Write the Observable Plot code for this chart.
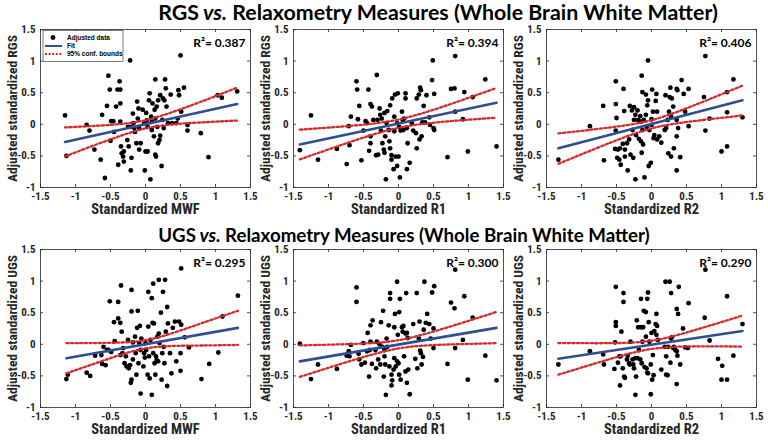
<!DOCTYPE html>
<html><head><meta charset="utf-8">
<script src="https://cdn.jsdelivr.net/npm/d3@7"></script>
<script src="https://cdn.jsdelivr.net/npm/@observablehq/plot@0.6"></script>
<style>
html,body{margin:0;padding:0;background:#fff;}
#root{position:relative;width:768px;height:442px;overflow:hidden;background:#fff;}
.panel{position:absolute;}
#overlay{position:absolute;left:0;top:0;pointer-events:none;}
</style></head><body><div id="root"></div>
<script>
// ---------------- data ----------------
const xTicks = [-1.5, -1, -0.5, 0, 0.5, 1, 1.5];
const yTicks = [-1, -0.5, 0, 0.5, 1, 1.5];
const titleTexts = [["RGS", " vs.", " Relaxometry Measures (Whole Brain White Matter)"],
                    ["UGS", " vs.", " Relaxometry Measures (Whole Brain White Matter)"]];
const xLabels = ["Standardized MWF", "Standardized R1", "Standardized R2"];
const yLabels = ["Adjusted standardized RGS", "Adjusted standardized UGS"];
const r2Values = ["0.387", "0.394", "0.406", "0.295", "0.300", "0.290"];
const legendLabels = ["Adjusted data", "Fit", "95% conf. bounds"];

const rgsMwfPoints = [[-1.15,0.14],[-1.13,-0.50],[-0.84,-0.01],[-0.80,-0.10],[-0.73,-0.40],[-0.64,-0.56],[-0.62,0.15],[-0.58,-0.85],[-0.55,0.29],[-0.53,0.77],[-0.51,0.55],[-0.50,-0.26],[-0.49,0.05],[-0.46,0.05],[-0.45,-0.12],[-0.42,0.28],[-0.40,0.55],[-0.39,-0.64],[-0.37,0.68],[-0.36,0.55],[-0.36,0.04],[-0.36,0.33],[-0.35,-0.35],[-0.34,-0.46],[-0.32,-0.51],[-0.31,-0.59],[-0.31,-0.43],[-0.26,-0.25],[-0.25,-0.04],[-0.24,-0.35],[-0.22,1.01],[-0.21,-0.04],[-0.21,-0.73],[-0.20,-0.53],[-0.18,0.17],[-0.17,0.02],[-0.16,-0.06],[-0.15,-0.12],[-0.13,-0.30],[-0.12,0.36],[-0.11,0.09],[-0.10,0.25],[-0.09,-0.06],[-0.09,-0.40],[-0.07,-0.30],[-0.04,0.23],[-0.02,0.02],[-0.01,-0.73],[0.00,-0.43],[0.01,0.18],[0.02,0.06],[0.03,-0.04],[0.03,-0.43],[0.05,0.38],[0.06,0.49],[0.07,-0.87],[0.08,0.12],[0.09,0.04],[0.09,-0.09],[0.10,0.33],[0.12,-0.19],[0.13,0.23],[0.14,0.09],[0.14,0.71],[0.14,-0.48],[0.15,-0.51],[0.16,0.28],[0.17,-0.04],[0.18,0.38],[0.18,-0.30],[0.20,-0.25],[0.21,0.46],[0.21,-0.18],[0.23,-0.66],[0.24,0.07],[0.25,0.41],[0.26,-0.06],[0.27,0.38],[0.28,0.71],[0.29,0.57],[0.30,0.28],[0.32,0.02],[0.36,0.47],[0.38,0.02],[0.44,0.02],[0.46,0.09],[0.47,0.54],[0.48,0.46],[0.50,1.09],[0.51,0.20],[0.55,0.58],[0.60,-0.01],[0.60,-0.10],[0.79,-0.14],[0.90,-0.52],[1.03,0.46],[1.09,0.42],[1.31,0.52]];
const rgsMwfFit = [[-1.15,-0.28],[1.31,0.32]];
const rgsMwfUpper = [[-1.15,-0.05],[-0.8,-0.03],[-0.4,0.0],[0,0.065],[0.4,0.2],[0.8,0.36],[1.31,0.58]];
const rgsMwfLower = [[-1.15,-0.51],[-0.8,-0.36],[-0.4,-0.2],[0,-0.065],[0.4,0.0],[0.8,0.03],[1.31,0.06]];

const rgsR1Points = [[-1.41,-0.41],[-1.25,0.14],[-1.15,-0.56],[-0.88,-0.39],[-0.74,-0.63],[-0.71,-0.03],[-0.70,-0.33],[-0.68,0.12],[-0.60,0.68],[-0.59,0.55],[-0.58,0.08],[-0.56,0.29],[-0.53,-0.57],[-0.50,-0.10],[-0.47,0.05],[-0.45,0.02],[-0.43,0.55],[-0.42,-0.42],[-0.40,-0.19],[-0.40,-0.30],[-0.40,0.32],[-0.38,0.28],[-0.36,0.07],[-0.32,-0.49],[-0.31,0.78],[-0.30,0.07],[-0.29,-0.48],[-0.27,0.25],[-0.26,0.15],[-0.25,-0.10],[-0.24,0.09],[-0.23,-0.30],[-0.21,-0.40],[-0.20,-0.45],[-0.20,0.18],[-0.19,-0.19],[-0.18,-0.87],[-0.17,0.02],[-0.16,0.21],[-0.14,-0.09],[-0.13,-0.27],[-0.12,0.30],[-0.12,-0.38],[-0.10,-0.49],[-0.10,-0.56],[-0.09,0.41],[-0.07,-0.71],[-0.06,0.12],[-0.06,-0.11],[-0.05,0.47],[-0.04,-0.51],[-0.02,0.02],[-0.02,-0.66],[-0.01,0.49],[0.00,-0.51],[0.01,-0.04],[0.02,-0.84],[0.03,-0.10],[0.05,0.20],[0.06,0.07],[0.07,-0.09],[0.08,0.09],[0.10,0.49],[0.10,0.41],[0.12,-0.71],[0.12,-0.06],[0.13,-0.30],[0.16,-0.61],[0.19,0.02],[0.21,-0.10],[0.25,-0.14],[0.26,-0.38],[0.26,0.41],[0.29,0.47],[0.30,-0.24],[0.31,0.58],[0.32,0.54],[0.33,-0.19],[0.34,0.03],[0.36,0.29],[0.38,0.03],[0.40,0.46],[0.44,0.11],[0.45,-0.01],[0.48,0.70],[0.49,1.01],[0.50,-0.06],[0.51,0.48],[0.51,-0.09],[0.75,0.56],[0.80,0.57],[0.81,0.20],[0.81,1.08],[0.70,-0.52],[0.92,0.08],[0.94,0.51],[0.99,-0.43],[1.06,0.43],[1.24,0.71],[1.40,-0.35]];
const rgsR1Fit = [[-1.41,-0.32],[1.40,0.34]];
const rgsR1Upper = [[-1.41,-0.085],[-0.8,-0.035],[-0.4,0.007],[0,0.075],[0.4,0.195],[0.8,0.341],[1.40,0.575]];
const rgsR1Lower = [[-1.41,-0.555],[-0.8,-0.321],[-0.4,-0.175],[0,-0.055],[0.4,0.013],[0.8,0.055],[1.40,0.105]];

const rgsR2Points = [[-1.33,-0.56],[-0.88,-0.03],[-0.69,0.29],[-0.68,-0.57],[-0.51,0.68],[-0.51,0.32],[-0.51,-0.10],[-0.50,0.10],[-0.52,-0.39],[-0.49,-0.53],[-0.48,-0.40],[-0.46,-0.56],[-0.45,-0.38],[-0.44,-0.64],[-0.41,-0.31],[-0.40,0.56],[-0.39,0.21],[-0.38,-0.40],[-0.38,-0.51],[-0.35,-0.30],[-0.34,-0.73],[-0.32,-0.24],[-0.31,0.29],[-0.30,-0.48],[-0.28,0.22],[-0.27,-0.09],[-0.26,-0.53],[-0.25,0.07],[-0.25,0.27],[-0.23,0.15],[-0.23,-0.87],[-0.22,-0.17],[-0.20,0.22],[-0.19,0.07],[-0.18,-0.23],[-0.16,0.13],[-0.15,0.04],[-0.15,-0.27],[-0.14,-0.45],[-0.14,0.77],[-0.13,-0.09],[-0.13,0.51],[-0.12,-0.32],[-0.11,0.07],[-0.10,-0.84],[-0.08,0.47],[-0.08,0.15],[-0.07,-0.04],[-0.06,0.30],[-0.05,1.01],[-0.05,0.38],[-0.04,-0.66],[-0.03,-0.09],[-0.01,-0.61],[0.00,-0.01],[0.00,0.08],[0.01,0.55],[0.02,0.20],[0.03,-0.22],[0.04,-0.17],[0.06,0.37],[0.07,0.48],[0.08,0.20],[0.08,-0.24],[0.11,-0.19],[0.14,-0.29],[0.19,-0.09],[0.20,0.46],[0.21,-0.06],[0.23,0.07],[0.24,-0.46],[0.25,0.20],[0.26,0.43],[0.27,0.58],[0.28,-0.51],[0.28,0.12],[0.29,0.41],[0.31,0.28],[0.32,-0.38],[0.36,-0.19],[0.36,0.07],[0.36,0.56],[0.37,0.54],[0.36,-0.73],[0.38,-0.06],[0.41,-0.52],[0.43,0.70],[0.46,0.48],[0.48,0.20],[0.53,-0.03],[0.53,0.56],[0.77,-0.10],[0.75,0.43],[0.77,1.08],[0.83,0.09],[1.00,-0.43],[1.08,-0.35],[1.08,0.51],[1.08,0.19],[1.17,0.71],[1.30,0.11]];
const rgsR2Fit = [[-1.33,-0.38],[1.30,0.38]];
const rgsR2Upper = [[-1.33,-0.144],[-0.8,-0.077],[-0.4,-0.021],[0,0.065],[0.4,0.211],[0.8,0.385],[1.30,0.611]];
const rgsR2Lower = [[-1.33,-0.624],[-0.8,-0.385],[-0.4,-0.211],[0,-0.065],[0.4,0.021],[0.8,0.077],[1.30,0.141]];

const ugsMwfPoints = [[-1.13,-0.55],[-1.11,-0.48],[-0.84,-0.45],[-0.79,-0.50],[-0.72,-0.18],[-0.60,-0.04],[-0.63,-0.17],[-0.62,-0.31],[-0.57,-0.33],[-0.55,-0.09],[-0.53,-0.09],[-0.51,0.68],[-0.49,-0.12],[-0.45,0.35],[-0.44,0.05],[-0.39,0.67],[-0.39,0.41],[-0.36,0.34],[-0.36,-0.17],[-0.35,0.93],[-0.34,0.20],[-0.33,-0.14],[-0.32,-0.06],[-0.30,-0.30],[-0.28,-0.19],[-0.27,-0.35],[-0.25,0.07],[-0.24,-0.38],[-0.22,-0.33],[-0.21,-0.61],[-0.20,0.86],[-0.20,-0.56],[-0.20,0.52],[-0.18,-0.24],[-0.18,0.03],[-0.15,0.12],[-0.14,-0.14],[-0.13,-0.48],[-0.12,0.26],[-0.11,0.53],[-0.10,-0.30],[-0.09,0.02],[-0.08,0.29],[-0.07,-0.78],[-0.07,-0.09],[-0.06,0.09],[-0.03,-0.35],[-0.02,-0.14],[-0.01,-0.21],[0.00,0.02],[0.01,-0.09],[0.03,-0.48],[0.04,0.83],[0.04,0.28],[0.05,-0.19],[0.06,-0.54],[0.07,0.07],[0.09,-0.80],[0.09,0.73],[0.10,0.34],[0.11,0.96],[0.11,-0.14],[0.12,0.33],[0.13,-0.30],[0.14,-0.48],[0.15,-0.19],[0.16,-0.25],[0.17,0.12],[0.18,-0.27],[0.19,1.02],[0.19,0.17],[0.20,0.02],[0.22,0.50],[0.23,-0.56],[0.24,-0.14],[0.25,0.83],[0.26,-0.04],[0.27,-0.30],[0.28,1.02],[0.29,0.20],[0.31,0.59],[0.31,-0.66],[0.32,0.33],[0.35,-0.14],[0.37,-0.46],[0.39,0.26],[0.42,0.36],[0.44,-0.27],[0.48,0.36],[0.50,-0.14],[0.50,-0.42],[0.51,0.31],[0.51,1.20],[0.56,0.11],[0.62,-0.05],[0.80,-0.55],[0.91,-0.31],[1.04,-0.13],[1.10,0.44],[1.32,0.77]];
const ugsMwfFit = [[-1.13,-0.22],[1.32,0.26]];
const ugsMwfUpper = [[-1.13,0.018],[-0.8,0.019],[-0.4,0.026],[0,0.065],[0.4,0.182],[0.8,0.333],[1.32,0.53]];
const ugsMwfLower = [[-1.13,-0.46],[-0.8,-0.333],[-0.4,-0.182],[0,-0.065],[0.4,-0.026],[0.8,-0.019],[1.32,-0.01]];

const ugsR1Points = [[-1.41,0.01],[-1.25,-0.55],[-1.15,-0.32],[-0.88,-0.39],[-0.74,-0.18],[-0.71,-0.11],[-0.70,-0.19],[-0.68,-0.01],[-0.60,0.90],[-0.60,0.67],[-0.57,-0.15],[-0.56,-0.24],[-0.53,-0.32],[-0.50,0.02],[-0.48,-0.29],[-0.45,-0.11],[-0.44,0.18],[-0.42,-0.51],[-0.41,-0.09],[-0.40,0.04],[-0.40,0.30],[-0.38,-0.31],[-0.37,0.38],[-0.33,-0.09],[-0.32,-0.38],[-0.31,0.04],[-0.29,-0.24],[-0.27,0.00],[-0.26,-0.32],[-0.25,0.35],[-0.23,-0.04],[-0.22,0.53],[-0.21,-0.51],[-0.20,-0.09],[-0.20,-0.19],[-0.19,-0.32],[-0.18,-0.80],[-0.17,0.09],[-0.16,-0.04],[-0.14,0.30],[-0.13,-0.35],[-0.12,0.81],[-0.12,0.72],[-0.10,-0.48],[-0.10,-0.65],[-0.09,-0.57],[-0.07,-0.40],[-0.06,0.27],[-0.06,-0.22],[-0.05,0.48],[-0.04,-0.35],[-0.02,0.99],[-0.02,-0.27],[-0.01,0.15],[0.00,-0.30],[0.01,0.51],[0.01,-0.48],[0.02,0.72],[0.03,-0.56],[0.05,0.27],[0.06,0.20],[0.07,0.29],[0.08,-0.19],[0.10,-0.43],[0.10,0.17],[0.11,0.81],[0.12,0.18],[0.12,-0.61],[0.13,0.10],[0.14,-0.40],[0.16,-0.79],[0.21,0.32],[0.24,-0.23],[0.26,0.81],[0.27,-0.38],[0.29,0.09],[0.30,0.36],[0.31,-0.10],[0.32,-0.14],[0.33,-0.32],[0.35,-0.20],[0.36,0.23],[0.37,0.99],[0.39,0.34],[0.41,0.48],[0.44,0.32],[0.46,0.09],[0.48,0.82],[0.50,0.25],[0.50,-0.06],[0.51,0.92],[0.70,-0.31],[0.75,0.66],[0.80,0.57],[0.81,-0.06],[0.81,1.18],[0.92,0.07],[0.94,0.76],[0.99,-0.56],[1.06,0.42],[1.24,-0.18],[1.40,-0.57]];
const ugsR1Fit = [[-1.41,-0.27],[1.40,0.26]];
const ugsR1Upper = [[-1.41,-0.018],[-0.8,0.0],[-0.4,0.018],[0,0.065],[0.4,0.17],[0.8,0.302],[1.40,0.512]];
const ugsR1Lower = [[-1.41,-0.516],[-0.8,-0.302],[-0.4,-0.17],[0,-0.065],[0.4,-0.018],[0.8,0.0],[1.40,0.018]];

const ugsR2Points = [[-1.33,-0.32],[-0.88,-0.11],[-0.69,-0.16],[-0.68,-0.32],[-0.51,0.91],[-0.51,0.35],[-0.51,0.29],[-0.52,0.03],[-0.53,-0.39],[-0.48,-0.29],[-0.46,-0.19],[-0.45,-0.65],[-0.44,-0.19],[-0.43,0.20],[-0.41,-0.38],[-0.40,0.67],[-0.40,0.81],[-0.39,-0.51],[-0.38,-0.53],[-0.35,-0.24],[-0.34,-0.18],[-0.32,-0.30],[-0.31,-0.32],[-0.30,0.04],[-0.27,-0.24],[-0.26,-0.32],[-0.25,-0.38],[-0.23,-0.80],[-0.23,-0.22],[-0.22,-0.51],[-0.21,0.38],[-0.20,-0.22],[-0.19,0.27],[-0.18,-0.09],[-0.16,-0.24],[-0.15,0.27],[-0.15,0.72],[-0.14,-0.30],[-0.13,0.04],[-0.12,0.27],[-0.11,0.53],[-0.10,-0.36],[-0.08,0.12],[-0.08,0.51],[-0.07,-0.38],[-0.06,-0.45],[-0.06,0.72],[-0.05,0.82],[-0.05,-0.46],[-0.04,0.35],[-0.03,0.04],[-0.01,-0.32],[-0.01,-0.79],[0.00,0.18],[0.01,-0.56],[0.02,-0.17],[0.03,-0.49],[0.04,0.21],[0.06,0.32],[0.07,0.48],[0.07,0.15],[0.08,0.29],[0.09,0.07],[0.14,-0.40],[0.19,-0.04],[0.20,0.99],[0.21,-0.19],[0.21,-0.48],[0.23,-0.49],[0.24,-0.04],[0.26,0.99],[0.27,-0.29],[0.28,0.81],[0.28,0.09],[0.29,0.11],[0.31,-0.06],[0.32,-0.04],[0.34,-0.09],[0.36,0.56],[0.36,-0.11],[0.36,-0.63],[0.37,-0.18],[0.38,0.48],[0.39,0.91],[0.41,-0.32],[0.45,0.25],[0.48,-0.05],[0.52,-0.06],[0.53,0.65],[0.76,0.42],[0.77,1.18],[0.83,0.06],[0.95,-0.23],[1.01,-0.34],[1.00,-0.56],[1.08,-0.56],[1.08,0.76],[1.17,-0.18],[1.30,0.32]];
const ugsR2Fit = [[-1.33,-0.23],[1.30,0.21]];
const ugsR2Upper = [[-1.33,0.02],[-0.8,0.017],[-0.4,0.022],[0,0.057],[0.4,0.156],[0.8,0.285],[1.30,0.454]];
const ugsR2Lower = [[-1.33,-0.48],[-0.8,-0.301],[-0.4,-0.172],[0,-0.073],[0.4,-0.038],[0.8,-0.033],[1.30,-0.036]];

// ---------------- layout / style ----------------
const LABEL_FONT = "'Roboto Condensed','DejaVu Sans Condensed','Liberation Sans',Arial,sans-serif";
const FIT_COLOR = "#2f4f94";
const CI_COLOR = "#d42a2a";
const AX_COLOR = "#262626";
const FW = 210, FH = 158;
const M = {left: 40, right: 6, top: 10, bottom: 36};
const colLefts = [40, 293, 546];
const rowTops = [29, 249];

const panels = [
  {pts: rgsMwfPoints, fit: rgsMwfFit, up: rgsMwfUpper, lo: rgsMwfLower, r: 0, c: 0},
  {pts: rgsR1Points, fit: rgsR1Fit, up: rgsR1Upper, lo: rgsR1Lower, r: 0, c: 1},
  {pts: rgsR2Points, fit: rgsR2Fit, up: rgsR2Upper, lo: rgsR2Lower, r: 0, c: 2},
  {pts: ugsMwfPoints, fit: ugsMwfFit, up: ugsMwfUpper, lo: ugsMwfLower, r: 1, c: 0},
  {pts: ugsR1Points, fit: ugsR1Fit, up: ugsR1Upper, lo: ugsR1Lower, r: 1, c: 1},
  {pts: ugsR2Points, fit: ugsR2Fit, up: ugsR2Upper, lo: ugsR2Lower, r: 1, c: 2}
];

const root = document.getElementById("root");
const fmt = d => String(d);
const px = d => d[0], py = d => d[1];

panels.forEach((p, i) => {
  const chart = Plot.plot({
    width: FW + M.left + M.right,
    height: FH + M.top + M.bottom,
    marginLeft: M.left, marginRight: M.right, marginTop: M.top, marginBottom: M.bottom,
    x: {domain: [-1.5, 1.5]},
    y: {domain: [-1, 1.5]},
    style: {fontFamily: LABEL_FONT, fontWeight: "bold", fontSize: "11px", color: AX_COLOR, background: "transparent", overflow: "visible"},
    marks: [
      Plot.dot(p.pts, {x: px, y: py, r: 2.4, fill: "#000", stroke: "none"}),
      Plot.line(p.fit, {x: px, y: py, stroke: FIT_COLOR, strokeWidth: 2.6}),
      Plot.line(p.up, {x: px, y: py, curve: "natural", stroke: CI_COLOR, strokeWidth: 2.3, strokeDasharray: "2.3,2.3"}),
      Plot.line(p.lo, {x: px, y: py, curve: "natural", stroke: CI_COLOR, strokeWidth: 2.3, strokeDasharray: "2.3,2.3"}),
      Plot.frame({stroke: AX_COLOR, strokeWidth: 0.8}),
      Plot.ruleX(xTicks, {x: d => d, insetTop: FH - 3, stroke: AX_COLOR, strokeWidth: 0.8}),
      Plot.ruleX(xTicks, {x: d => d, insetBottom: FH - 3, stroke: AX_COLOR, strokeWidth: 0.8}),
      Plot.ruleY(yTicks, {y: d => d, insetRight: FW - 3, stroke: AX_COLOR, strokeWidth: 0.8}),
      Plot.ruleY(yTicks, {y: d => d, insetLeft: FW - 3, stroke: AX_COLOR, strokeWidth: 0.8}),
      Plot.axisX({ticks: xTicks, tickSize: 0, tickPadding: 5, tickFormat: fmt, label: null}),
      Plot.axisY({ticks: yTicks, tickSize: 0, tickPadding: 5, tickFormat: fmt, label: null}),
      Plot.text([xLabels[p.c]], {text: d => d, frameAnchor: "bottom", textAnchor: "middle", dy: 26, fontSize: 14.5, fill: AX_COLOR}),
      Plot.text([yLabels[p.r]], {text: d => d, frameAnchor: "left", textAnchor: "middle", dx: -28, rotate: -90, fontSize: 13.5, fill: AX_COLOR}),
      Plot.text([`R\u00B2= ${r2Values[i]}`], {text: d => d, frameAnchor: "top-right", textAnchor: "end", dx: -5, dy: 9, fontSize: 12, fontFamily: "Lato, 'Open Sans', sans-serif", fill: "#000"})
    ]
  });
  chart.classList.add("panel");
  chart.style.left = (colLefts[p.c] - M.left) + "px";
  chart.style.top = (rowTops[p.r] - M.top) + "px";
  root.appendChild(chart);
});

// ---------------- overlay: titles + legend ----------------
const ov = d3.select(root).append("svg").attr("id", "overlay").attr("width", 768).attr("height", 442);

function addTitle(parts, cx, baseline, size, targetW) {
  const t = ov.append("text")
    .attr("font-family", "Lato, 'Open Sans', sans-serif")
    .attr("font-weight", "bold").attr("font-size", size)
    .attr("fill", "#000").attr("text-anchor", "middle");
  parts.forEach((s, k) => t.append("tspan").attr("font-style", k === 1 ? "italic" : "normal").text(s));
  const w = t.node().getComputedTextLength();
  t.attr("transform", `translate(${cx},${baseline}) scale(${targetW / w},1)`);
}
addTitle(titleTexts[0], 438, 20, 21, 560);
addTitle(titleTexts[1], 404, 242, 19, 492);

// legend (panel 1, top-left)
const lg = ov.append("g").attr("transform", "translate(43,30.5)");
lg.append("rect").attr("width", 80).attr("height", 31).attr("fill", "#fff").attr("stroke", AX_COLOR).attr("stroke-width", 0.6);
const rowsY = [7, 15.5, 23.5];
lg.append("circle").attr("cx", 10).attr("cy", rowsY[0]).attr("r", 2.4).attr("fill", "#000");
lg.append("line").attr("x1", 2).attr("x2", 19).attr("y1", rowsY[1]).attr("y2", rowsY[1]).attr("stroke", FIT_COLOR).attr("stroke-width", 2);
lg.append("line").attr("x1", 2).attr("x2", 19).attr("y1", rowsY[2]).attr("y2", rowsY[2]).attr("stroke", CI_COLOR).attr("stroke-width", 2).attr("stroke-dasharray", "2,1.6");
legendLabels.forEach((s, k) => lg.append("text").attr("x", 24).attr("y", rowsY[k]).attr("dy", "0.35em")
  .attr("font-family", "'Liberation Sans',Arial,sans-serif").attr("font-weight", "bold").attr("font-size", 6.5).attr("fill", "#000").text(s));
</script></body></html>
